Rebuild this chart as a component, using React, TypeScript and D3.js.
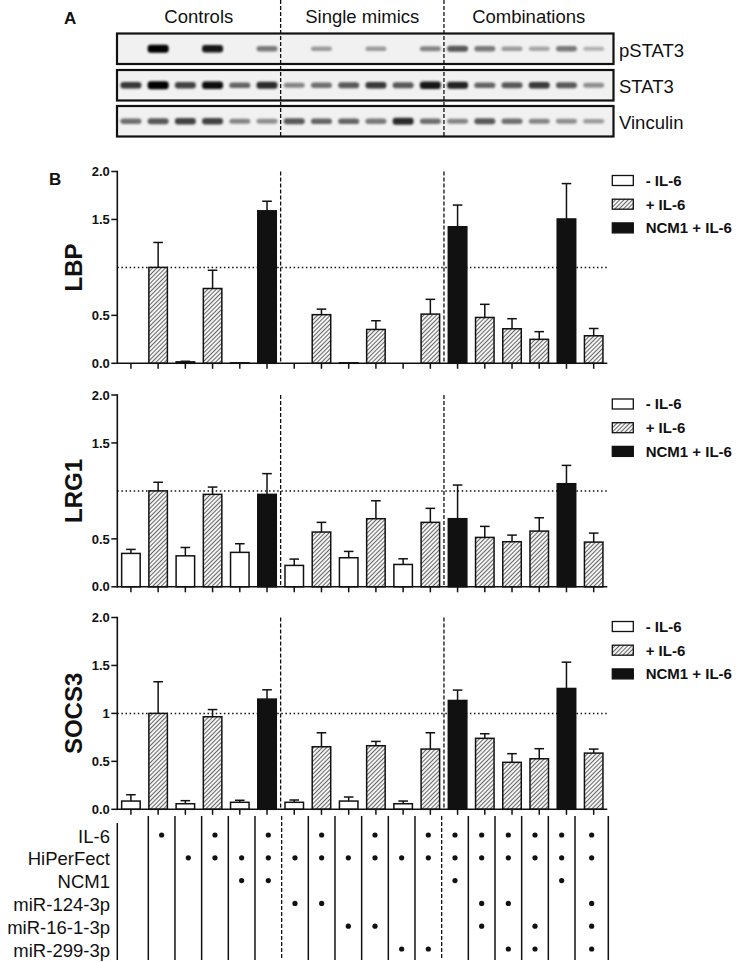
import React from 'react';
import * as d3 from 'd3';

// ---------- DATA ----------
const laneIds = ['c1','c2','c3','c4','c5','c6','s1','s2','s3','s4','s5','s6','m1','m2','m3','m4','m5','m6'];
const groupLabels = ['Controls', 'Single mimics', 'Combinations'];
const groupBreaks = [6, 12];
// neg = - IL-6, pos = + IL-6, ncm = NCM1 + IL-6
const barType = ['neg','pos','neg','pos','neg','ncm','neg','pos','neg','pos','neg','pos','ncm','pos','pos','pos','ncm','pos'];
const legendLabels = ['- IL-6', '+ IL-6', 'NCM1 + IL-6'];
const legendTypes = ['neg', 'pos', 'ncm'];

const lbpMean = [0, 1.0, 0.015, 0.78, 0.005, 1.59, 0, 0.507, 0.005, 0.353, 0, 0.513, 1.424, 0.478, 0.36, 0.25, 1.505, 0.287];
const lbpSem  = [0, 0.26, 0.006, 0.19, 0, 0.10, 0, 0.058, 0, 0.091, 0, 0.154, 0.226, 0.137, 0.105, 0.08, 0.369, 0.076];
const lrg1Mean = [0.348, 1.0, 0.323, 0.964, 0.359, 0.964, 0.223, 0.571, 0.303, 0.71, 0.233, 0.672, 0.71, 0.515, 0.47, 0.581, 1.075, 0.466];
const lrg1Sem  = [0.042, 0.09, 0.087, 0.076, 0.09, 0.216, 0.066, 0.101, 0.066, 0.187, 0.059, 0.146, 0.351, 0.115, 0.069, 0.139, 0.191, 0.094];
const socs3Mean = [0.086, 1.0, 0.058, 0.965, 0.073, 1.149, 0.073, 0.652, 0.086, 0.663, 0.058, 0.628, 1.135, 0.74, 0.49, 0.527, 1.26, 0.586];
const socs3Sem  = [0.066, 0.33, 0.032, 0.075, 0.021, 0.097, 0.024, 0.146, 0.042, 0.045, 0.028, 0.17, 0.108, 0.048, 0.09, 0.105, 0.274, 0.042];

const yTicksMain = [0, 0.5, 1.5, 2.0];
const yTickLabelsMain = ['0.0', '0.5', '1.5', '2.0'];
const yTicksSocs = [0, 0.5, 1, 1.5, 2.0];
const yTickLabelsSocs = ['0.0', '0.5', '1', '1.5', '2.0'];

const blotNames = ['pSTAT3', 'STAT3', 'Vinculin'];
const pstat3Int = [0, 1.0, 0, 0.9, 0, 0.45, 0, 0.3, 0, 0.3, 0, 0.4, 0.6, 0.45, 0.3, 0.25, 0.45, 0.2];
const stat3Int = [0.75, 1.0, 0.7, 0.95, 0.55, 0.8, 0.4, 0.5, 0.6, 0.75, 0.6, 0.9, 0.85, 0.55, 0.6, 0.75, 0.6, 0.35];
const vinculinInt = [0.5, 0.6, 0.7, 0.7, 0.4, 0.35, 0.6, 0.55, 0.55, 0.45, 0.8, 0.5, 0.4, 0.6, 0.5, 0.4, 0.35, 0.3];

const tableRows = ['IL-6', 'HiPerFect', 'NCM1', 'miR-124-3p', 'miR-16-1-3p', 'miR-299-3p'];
const il6Row      = [0,1,0,1,0,1, 0,1,0,1,0,1, 1,1,1,1,1,1];
const hiperRow    = [0,0,1,1,1,1, 1,1,1,1,1,1, 1,1,1,1,1,1];
const ncm1Row     = [0,0,0,0,1,1, 0,0,0,0,0,0, 1,0,0,0,1,0];
const mir124Row   = [0,0,0,0,0,0, 1,1,0,0,0,0, 0,1,1,0,0,1];
const mir16Row    = [0,0,0,0,0,0, 0,0,1,1,0,0, 0,1,0,1,0,1];
const mir299Row   = [0,0,0,0,0,0, 0,0,0,0,1,1, 0,0,1,1,0,1];
const tableMatrix = [il6Row, hiperRow, ncm1Row, mir124Row, mir16Row, mir299Row];

// ---------- LAYOUT ----------
const W = 736, H = 962;
const FONT = 'Arial, "Liberation Sans", Helvetica, sans-serif';
const X0 = 117.3, X1 = 607.3;
const PLOT_H = 191.8;
const chartTops = [171.5, 395, 617.5];

const x = d3.scaleBand<string>().domain(laneIds).range([X0, X1]).paddingInner(0.32).paddingOuter(0.16);
const step = x.step();
const cx = (i: number) => (x(laneIds[i]) as number) + x.bandwidth() / 2;
const breakX = (b: number) => X0 + b * step;

const fillFor = (t: string) => (t === 'neg' ? '#ffffff' : t === 'pos' ? 'url(#hatch)' : '#111111');

function Chart({ top, label, mean, sem, ticks, tickLabels }: any) {
  const y = d3.scaleLinear().domain([0, 2]).range([top + PLOT_H, top]);
  const y0 = y(0);
  return (
    <g>
      <line x1={X0} x2={X1} y1={y(1)} y2={y(1)} stroke="#111" strokeWidth={1.5} strokeDasharray="1.5,2.6" />
      {groupBreaks.map((b) => (
        <line key={b} x1={breakX(b)} x2={breakX(b)} y1={y(2)} y2={y0} stroke="#111" strokeWidth={1.3} strokeDasharray="4,2" />
      ))}
      {mean.map((m: number, i: number) => {
        const s = sem[i];
        if (s <= 0) return null;
        const c = cx(i);
        return (
          <g key={'e' + i} stroke="#111" strokeWidth={1.5}>
            <line x1={c} x2={c} y1={y(m)} y2={y(m + s)} />
            <line x1={c - 4.8} x2={c + 4.8} y1={y(m + s)} y2={y(m + s)} />
          </g>
        );
      })}
      {mean.map((m: number, i: number) => (
        <rect key={'b' + i} x={x(laneIds[i])} y={y(m)} width={x.bandwidth()} height={Math.max(0, y0 - y(m))}
          fill={fillFor(barType[i])} stroke="#111" strokeWidth={1.5} />
      ))}
      <line x1={X0} x2={X0} y1={y(2) - 0.75} y2={y0 + 0.75} stroke="#111" strokeWidth={1.6} />
      <line x1={X0} x2={X1} y1={y0} y2={y0} stroke="#111" strokeWidth={1.6} />
      {ticks.map((t: number, k: number) => (
        <g key={'t' + t}>
          <line x1={X0 - 6} x2={X0} y1={y(t)} y2={y(t)} stroke="#111" strokeWidth={1.5} />
          <text x={X0 - 7.5} y={y(t)} dy="0.36em" textAnchor="end" fontFamily={FONT} fontWeight="bold" fontSize={13} fill="#111">{tickLabels[k]}</text>
        </g>
      ))}
      {laneIds.map((id, i) => (
        <line key={'xt' + id} x1={cx(i)} x2={cx(i)} y1={y0} y2={y0 + 5.5} stroke="#111" strokeWidth={1.5} />
      ))}
      <text transform={`translate(82,${top + PLOT_H / 2}) rotate(-90)`} textAnchor="middle" fontFamily={FONT} fontWeight="bold" fontSize={24} fill="#111">{label}</text>
      {legendLabels.map((l, k) => {
        const ly = top + 9 + k * 23.7;
        return (
          <g key={'lg' + k}>
            <rect x={612.3} y={ly - 5} width={21} height={10} fill={fillFor(legendTypes[k])} stroke="#111" strokeWidth={1.3} />
            <text x={645.7} y={ly} dy="0.36em" fontFamily={FONT} fontWeight="bold" fontSize={15} fill="#111">{l}</text>
          </g>
        );
      })}
    </g>
  );
}

function Blot() {
  const boxL = 117, boxR = 613.5;
  const rows = [pstat3Int, stat3Int, vinculinInt];
  const boxTops = [33.5, 70, 106];
  const boxH = 30.5;
  const lane = d3.scaleBand<string>().domain(laneIds).range([X0, X1]).paddingInner(0.2).paddingOuter(0.1);
  const gray = d3.scaleLinear<string>().domain([0, 1]).range(['#dcdcdc', '#000000']);
  const groupCenters = [0, 1, 2].map((g) => {
    const a = g === 0 ? boxL : breakX(groupBreaks[g - 1]);
    const b = g === 2 ? boxR : breakX(groupBreaks[g]);
    return (a + b) / 2;
  });
  return (
    <g>
      <defs>
        <filter id="blur" x="-30%" y="-100%" width="160%" height="300%">
          <feGaussianBlur stdDeviation="1.0 1.2" />
        </filter>
      </defs>
      <text x={64} y={24} fontFamily={FONT} fontWeight="bold" fontSize={17} fill="#111">A</text>
      {groupLabels.map((g, k) => (
        <text key={g} x={groupCenters[k]} y={23} textAnchor="middle" fontFamily={FONT} fontSize={18.5} fill="#111">{g}</text>
      ))}
      {rows.map((r, k) => (
        <g key={blotNames[k]}>
          <rect x={boxL} y={boxTops[k]} width={boxR - boxL} height={boxH} fill="#f1f1f1" stroke="#111" strokeWidth={2.2} />
          <g filter="url(#blur)">
            {r.map((v, i) => v > 0 ? (
              <rect key={i} x={(lane(laneIds[i]) as number) + lane.bandwidth() / 2 - 10.5} y={boxTops[k] + boxH / 2 - (1.6 + 2.3 * v)}
                width={21} height={2 * (1.6 + 2.3 * v)} rx={3} fill={gray(v)} />
            ) : null)}
          </g>
          <text x={619} y={boxTops[k] + boxH / 2 + 8} fontFamily={FONT} fontSize={18.5} fill="#111">{blotNames[k]}</text>
        </g>
      ))}
      {groupBreaks.map((b) => (
        <line key={'d' + b} x1={breakX(b)} x2={breakX(b)} y1={0} y2={138} stroke="#111" strokeWidth={1.3} strokeDasharray="4,2" />
      ))}
    </g>
  );
}

function Table() {
  const sepX = d3.scaleLinear().domain([1, 17]).range([148.3, 575]);
  const seps = laneIds.map((_, i) => (i === 0 ? X0 : sepX(i))).concat([608.3]);
  const colC = laneIds.map((_, i) => (seps[i] + seps[i + 1]) / 2);
  const rowY = d3.scaleLinear().domain([0, tableRows.length - 1]).range([836, 950]);
  return (
    <g>
      {tableRows.map((r, k) => (
        <text key={r} x={110} y={rowY(k)} dy="0.36em" textAnchor="end" fontFamily={FONT} fontSize={18.5} fill="#111">{r}</text>
      ))}
      <line x1={X0} x2={X0} y1={823} y2={960} stroke="#111" strokeWidth={1.5} />
      {seps.slice(1).map((sx, i) => {
        const dashed = groupBreaks.includes(i + 1);
        return (
          <line key={'s' + i} x1={sx} x2={sx} y1={816} y2={960} stroke="#111" strokeWidth={dashed ? 1.3 : 1.5}
            strokeDasharray={dashed ? '4,2' : undefined} />
        );
      })}
      {tableMatrix.map((row, k) => row.map((v, i) => v ? (
        <circle key={k + '-' + i} cx={colC[i]} cy={rowY(k) - 1} r={2.6} fill="#111" />
      ) : null))}
    </g>
  );
}

export default function App() {
  return (
    <svg width={W} height={H} viewBox={`0 0 ${W} ${H}`} style={{ position: 'absolute', left: 0, top: 0, background: '#fff' }}>
      <defs>
        <pattern id="hatch" patternUnits="userSpaceOnUse" width={3} height={3} patternTransform="rotate(45)">
          <rect width={3} height={3} fill="#f4f4f4" />
          <line x1={0} y1={0} x2={0} y2={3} stroke="#1a1a1a" strokeWidth={1.3} />
        </pattern>
      </defs>
      <rect width={W} height={H} fill="#fff" />
      <Blot />
      <text x={49} y={185} fontFamily={FONT} fontWeight="bold" fontSize={17} fill="#111">B</text>
      <Chart top={chartTops[0]} label="LBP" mean={lbpMean} sem={lbpSem} ticks={yTicksMain} tickLabels={yTickLabelsMain} />
      <Chart top={chartTops[1]} label="LRG1" mean={lrg1Mean} sem={lrg1Sem} ticks={yTicksMain} tickLabels={yTickLabelsMain} />
      <Chart top={chartTops[2]} label="SOCS3" mean={socs3Mean} sem={socs3Sem} ticks={yTicksSocs} tickLabels={yTickLabelsSocs} />
      <Table />
    </svg>
  );
}
